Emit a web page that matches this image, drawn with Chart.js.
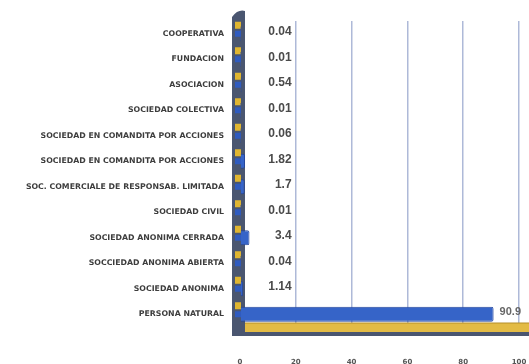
<!DOCTYPE html>
<html>
<head>
<meta charset="utf-8">
<script src="https://cdn.jsdelivr.net/npm/chart.js@4.4.1/dist/chart.umd.min.js"></script>
<style>
  html, body { margin: 0; padding: 0; background: #fff; overflow: hidden; }
  #wrap { width: 529px; height: 364px; }
  canvas { display: block; filter: blur(0.4px); }
</style>
</head>
<body>
<div id="wrap"><canvas id="chart"></canvas></div>
<script>
// Data (top to bottom)
const categories = [
  'COOPERATIVA',
  'FUNDACION',
  'ASOCIACION',
  'SOCIEDAD COLECTIVA',
  'SOCIEDAD EN COMANDITA POR ACCIONES',
  'SOCIEDAD EN COMANDITA POR ACCIONES',
  'SOC. COMERCIALE DE RESPONSAB. LIMITADA',
  'SOCIEDAD CIVIL',
  'SOCIEDAD ANONIMA CERRADA',
  'SOCCIEDAD ANONIMA ABIERTA',
  'SOCIEDAD ANONIMA',
  'PERSONA NATURAL'
];
const percentages = [0.04, 0.01, 0.54, 0.01, 0.06, 1.82, 1.7, 0.01, 3.4, 0.04, 1.14, 90.9];
const axisTicks = [0, 20, 40, 60, 80, 100];

// left wall + floor to fake the 3D look
const wallPlugin = {
  id: 'wall',
  beforeDatasetsDraw(chart) {
    const { ctx, chartArea } = chart;
    const { left, right, top, bottom } = chartArea;
    const meta = chart.getDatasetMeta(0);
    ctx.save();
    // floor
    ctx.fillStyle = '#4a5670';
    ctx.fillRect(left - 8, bottom + 5, right - left + 30, 4);
    ctx.fillStyle = '#e3bb45';
    ctx.fillRect(left - 4, bottom - 4, right - left + 24, 9);
    ctx.strokeStyle = '#b58f2a';
    ctx.lineWidth = 1;
    ctx.beginPath();
    ctx.moveTo(left - 4, bottom - 4);
    ctx.lineTo(right + 20, bottom - 4);
    ctx.stroke();
    // wall
    ctx.fillStyle = '#4a5670';
    ctx.beginPath();
    ctx.moveTo(left - 8, bottom + 9);
    ctx.lineTo(left - 8, top - 4);
    ctx.quadraticCurveTo(left - 2, top - 12, left + 5, top - 10);
    ctx.lineTo(left + 5, bottom + 9);
    ctx.closePath();
    ctx.fill();
    meta.data.forEach((bar) => {
      ctx.fillStyle = '#e0b631';
      ctx.fillRect(left - 5, bar.y - 12, 6, 7);
      ctx.fillStyle = '#2f5bbf';
      ctx.fillRect(left - 5, bar.y - 3, 6, 6);
    });
    ctx.restore();
  }
};

// value labels: most sit in a column left of the 20 line, big ones after the bar
const valueLabelPlugin = {
  id: 'valueLabels',
  afterDatasetsDraw(chart) {
    const { ctx } = chart;
    const xs = chart.scales.x;
    const meta = chart.getDatasetMeta(0);
    const anchor = xs.getPixelForValue(18.5);
    ctx.save();
    ctx.textBaseline = 'middle';
    meta.data.forEach((bar, i) => {
      const v = percentages[i];
      if (bar.x > anchor - 30) {
        ctx.font = 'bold 11px "Liberation Sans"';
        ctx.fillStyle = '#666';
        ctx.textAlign = 'left';
        ctx.fillText(String(v), bar.x + 6, bar.y - 2);
      } else {
        ctx.font = 'bold 12px "Liberation Sans"';
        ctx.fillStyle = '#4a4a4a';
        ctx.textAlign = 'right';
        ctx.fillText(String(v), anchor, bar.y - 2);
      }
    });
    ctx.restore();
  }
};

new Chart(document.getElementById('chart'), {
  type: 'bar',
  data: {
    labels: categories,
    datasets: [{
      data: percentages,
      backgroundColor: '#3664c8',
      borderColor: '#24469c',
      borderWidth: 1,
      borderRadius: 2,
      borderSkipped: 'start',
      categoryPercentage: 1,
      barPercentage: 0.58
    }]
  },
  options: {
    indexAxis: 'y',
    responsive: true,
    maintainAspectRatio: false,
    animation: false,
    layout: { padding: { top: 21, right: 10, left: 0, bottom: 0 } },
    plugins: {
      legend: { display: false },
      tooltip: { enabled: false }
    },
    scales: {
      x: {
        min: axisTicks[0],
        max: axisTicks[axisTicks.length - 1],
        afterBuildTicks(scale) {
          scale.ticks = axisTicks.map(v => ({ value: v }));
        },
        afterFit(scale) {
          scale.height = 37;
          // big tick padding would otherwise eat the right side
          scale.paddingLeft = 0;
          scale.paddingRight = 0;
        },
        border: { display: false },
        grid: {
          color: ctx => ctx.tick && ctx.tick.value === 0 ? 'rgba(0,0,0,0)' : '#aeb9d8',
          lineWidth: 1.5,
          drawTicks: false
        },
        ticks: {
          padding: 31,
          color: '#555',
          font: { family: 'DejaVu Sans', size: 7, weight: 'bold' }
        }
      },
      y: {
        afterFit(scale) { scale.width = 240; },
        border: { display: false },
        grid: { display: false, drawTicks: false },
        ticks: {
          padding: 16,
          color: '#3d3d3d',
          font: { family: 'DejaVu Sans', size: 7.8, weight: 'bold' }
        }
      }
    }
  },
  plugins: [wallPlugin, valueLabelPlugin]
});
</script>
</body>
</html>
